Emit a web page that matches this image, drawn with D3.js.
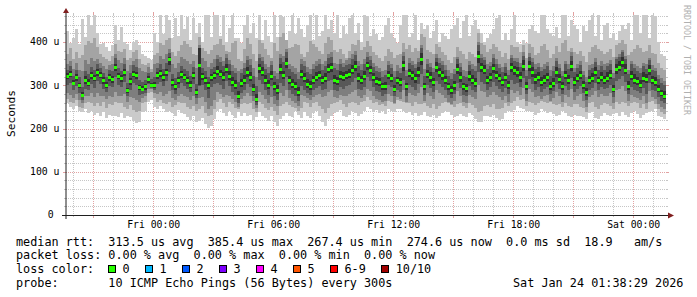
<!DOCTYPE html>
<html>
<head>
<meta charset="utf-8">
<script src="https://d3js.org/d3.v7.min.js"></script>
<style>
  body { margin: 0; background: #fff; }
  svg text { font-family: "DejaVu Sans Mono", monospace; white-space: pre; }
</style>
</head>
<body>
<div class="chart"></div>
<script>
// time window of the graph (30 hours, one sample every 9 minutes)
var startTime = "2026-01-22T19:38:29";
var endTime = "2026-01-24T01:38:29";
var stepMinutes = 9;

// median rtt per sample (us)
var median = [
  320,326,305,318,300,277,312,305,322,316, 330,322,310,300,318,314,341,320,315,330,
  287,308,326,322,294,291,296,314,300,300, 322,328,318,330,359,306,296,312,325,318,
  312,300,322,284,345,320,312,300,318,322, 332,325,318,337,320,306,300,275,303,312,
  330,318,291,268,338,330,312,300,320,296, 287,336,322,350,310,302,296,283,325,316,
  302,298,310,318,322,310,316,337,340,312, 308,320,318,322,325,334,343,316,310,320,
  345,335,318,308,306,296,298,322,316,291, 310,306,345,296,328,322,316,330,360,296,
  326,318,306,341,330,322,312,296,288,299, 337,318,296,292,320,312,305,367,340,335,
  312,318,338,322,316,306,318,300,340,333, 330,318,344,296,344,330,314,318,306,312,
  318,298,304,330,314,298,322,312,344,306, 316,322,300,283,312,316,330,310,318,312,
  316,322,290,336,341,352,335,298,320,312, 308,300,316,314,333,310,306,290,280,275
];

// the 10 pings of each sample, sorted (ping1 = fastest, ping10 = slowest)
var ping1 = [
  258,250,246,252,240,238,244,235,240,232, 236,228,238,225,232,230,228,226,235,224,
  230,226,218,213,216,238,240,262,265,250, 246,252,244,238,240,236,230,242,236,234,
  226,220,228,214,218,224,210,201,206,222, 240,246,235,228,240,232,225,238,230,236,
  228,232,220,226,238,230,224,218,228,214, 205,222,230,236,228,226,240,232,225,238,
  230,224,236,240,228,215,205,222,230,235, 238,242,230,226,232,240,236,228,234,240,
  250,246,238,242,236,240,234,244,240,238, 244,246,240,236,238,232,236,228,232,238,
  230,226,232,224,228,236,240,238,232,226, 230,234,228,226,236,232,222,214,216,228,
  230,226,232,224,220,222,236,240,238,242, 252,248,244,240,240,238,232,236,244,240,
  236,238,234,230,232,240,236,228,226,232, 230,228,226,222,236,238,225,222,230,236,
  232,228,234,236,230,238,232,226,236,240, 234,224,232,236,238,240,244,230,226,222
];
var ping2 = [
  268,262,258,266,250,248,258,262,260,252, 258,252,262,248,256,254,262,258,260,250,
  246,254,242,238,240,258,262,282,285,270, 262,266,258,256,262,250,254,262,260,258,
  250,244,252,240,246,252,236,228,232,246, 262,268,258,250,262,256,248,244,256,260,
  256,258,246,238,262,256,248,242,250,240, 232,252,256,262,254,250,248,240,248,262,
  258,250,258,262,252,244,236,248,256,258, 262,266,256,250,258,262,260,254,262,264,
  272,266,258,262,254,256,252,264,262,256, 266,264,262,258,260,252,262,256,256,260,
  252,248,256,246,252,258,262,258,254,250, 256,260,252,248,258,254,248,238,240,252,
  254,250,256,246,244,248,258,252,260,264, 272,266,268,252,262,258,254,258,264,262,
  260,262,256,254,256,250,258,252,250,256, 256,250,248,238,260,262,250,246,254,260,
  256,252,244,262,256,262,258,252,260,262, 258,248,256,246,262,264,256,244,238,234
];
var ping3 = [
  282,278,270,280,266,258,276,274,282,272, 282,276,276,268,274,272,284,276,274,280,
  262,272,270,266,262,270,274,292,292,282, 280,284,276,280,286,270,266,276,280,276,
  272,266,276,256,270,272,262,246,252,266, 284,280,272,278,274,268,262,250,268,274,
  282,276,264,248,284,278,268,258,272,256, 252,282,276,290,270,264,260,252,278,274,
  270,266,272,278,280,272,276,284,288,272, 270,278,274,276,280,284,290,274,270,278,
  292,286,274,268,266,262,264,280,276,260, 272,268,290,262,282,278,274,282,296,264,
  282,276,268,290,282,278,270,262,256,264, 286,276,262,258,278,272,268,300,286,284,
  272,278,284,278,272,266,276,262,288,282, 286,278,294,264,292,284,272,276,268,274,
  278,264,270,284,274,262,278,272,292,266, 276,280,264,250,272,278,286,272,280,276,
  276,282,258,290,292,298,286,264,278,272, 270,266,276,258,286,272,268,256,250,246
];
var ping4 = [
  300,306,288,298,282,266,292,288,304,294, 310,302,292,284,298,296,318,300,296,308,
  274,290,306,300,278,280,282,302,294,290, 302,308,298,310,330,288,280,294,306,298,
  292,284,302,270,298,300,290,270,296,302, 306,300,292,310,298,284,278,258,282,290,
  304,296,274,254,312,304,290,278,298,274, 266,306,298,318,288,280,274,264,298,290,
  282,278,288,294,298,288,292,310,312,290, 286,296,292,298,300,308,316,292,288,296,
  318,310,296,286,284,276,280,300,296,274, 288,284,312,276,300,296,290,304,326,278,
  300,294,284,310,302,296,288,278,270,280, 306,294,278,274,298,290,284,330,308,304,
  290,296,308,298,292,284,294,280,312,304, 306,296,316,280,314,304,290,296,284,292,
  296,280,286,304,292,280,298,290,316,284, 292,298,282,266,290,294,306,288,296,292,
  294,300,272,310,314,322,308,280,296,290, 286,282,294,280,306,290,286,272,264,260
];
var ping5 = [
  314,318,300,309,294,272,302,298,314,310, 322,316,302,294,310,306,332,314,308,322,
  281,300,318,314,288,286,290,306,296,294, 314,320,310,322,346,298,290,304,316,312,
  304,294,314,278,300,312,304,292,310,314, 324,318,310,328,312,298,292,268,296,304,
  320,310,284,262,328,322,304,292,312,288, 280,326,314,340,302,294,288,276,316,308,
  294,290,302,310,314,302,308,328,330,304, 300,312,310,314,316,326,334,308,302,312,
  336,326,310,300,298,288,290,314,308,284, 302,298,334,288,318,312,306,320,346,288,
  316,308,298,330,320,312,304,288,280,290, 326,308,288,284,310,302,296,352,330,326,
  304,310,328,314,308,298,310,292,330,324, 320,308,334,288,334,320,304,310,298,304,
  310,290,296,320,306,290,314,304,334,298, 308,314,292,276,304,308,322,302,310,304,
  308,314,284,326,332,342,326,290,312,304, 300,294,308,306,324,302,298,284,274,268
];
var ping6 = [
  328,334,312,326,306,284,322,314,330,324, 338,330,318,308,326,322,350,328,324,338,
  294,316,334,330,300,298,302,322,306,308, 330,336,326,338,366,314,304,320,334,326,
  320,310,330,292,385,328,320,308,326,330, 344,336,330,348,332,318,312,286,314,324,
  342,330,302,280,350,342,324,312,332,308, 300,348,334,364,322,314,308,296,336,328,
  314,310,322,330,334,322,328,350,352,324, 320,332,330,334,338,346,356,328,322,332,
  354,344,328,318,316,306,308,332,326,300, 320,316,356,306,338,332,326,342,374,306,
  336,330,316,354,340,334,322,306,298,310, 348,330,306,302,332,324,316,380,352,346,
  322,328,350,332,326,314,328,310,352,344, 342,330,358,308,356,342,326,330,318,324,
  328,308,316,342,326,308,334,324,356,318, 326,334,310,294,322,328,342,320,330,322,
  330,336,300,350,356,366,348,310,334,326, 320,312,330,326,346,322,318,300,290,286
];
var ping7 = [
  336,344,322,336,318,296,334,326,342,336, 348,340,328,320,336,334,362,340,334,350,
  306,328,346,342,312,308,312,328,314,320, 340,350,338,352,374,326,316,330,344,338,
  334,322,342,304,386,340,334,318,338,342, 360,354,344,362,348,334,328,308,328,340,
  358,346,322,298,362,356,338,328,346,322, 314,362,354,376,338,330,326,314,350,344,
  330,326,338,344,348,336,344,362,366,340, 336,348,342,346,350,360,370,344,336,348,
  366,358,342,332,330,320,324,346,340,318, 334,328,368,322,352,346,340,354,386,322,
  350,342,330,364,352,346,336,322,314,326, 360,342,322,318,346,338,332,392,364,358,
  338,344,364,348,340,330,342,324,364,356, 354,342,368,322,366,354,338,342,332,338,
  344,322,332,356,340,322,348,338,368,330, 340,346,324,308,336,340,354,336,344,336,
  344,350,316,360,366,376,360,326,348,340, 334,328,344,338,358,336,332,314,306,300
];
var ping8 = [
  350,356,338,352,336,332,358,350,362,356, 360,352,344,338,346,350,372,358,352,362,
  334,346,356,360,340,332,330,342,330,348, 352,368,360,372,384,350,340,352,366,360,
  356,348,356,340,392,362,356,342,352,360, 370,366,356,372,358,346,340,332,338,352,
  368,360,340,320,372,366,350,342,356,334, 328,372,368,384,350,344,340,330,360,356,
  342,338,350,356,360,348,356,372,376,352, 348,360,352,358,362,372,380,356,348,360,
  376,368,352,344,340,332,336,356,350,332, 346,340,376,336,362,356,350,362,392,338,
  360,352,340,372,362,356,346,336,328,338, 366,352,336,332,356,350,344,400,372,366,
  348,354,372,360,350,342,352,336,370,362, 362,352,376,336,374,362,348,352,342,348,
  354,336,344,364,350,334,356,348,376,340, 350,356,334,318,346,350,362,346,356,348,
  352,358,328,366,372,382,368,336,356,348, 344,340,352,348,364,346,340,324,316,310
];
var ping9 = [
  372,385,360,378,362,370,392,402,398,410, 388,372,366,360,356,368,395,380,376,384,
  358,362,378,382,360,350,346,352,338,370, 375,398,392,404,410,376,368,380,392,402,
  396,388,372,370,412,385,380,372,382,392, 396,408,392,380,376,398,402,360,356,384,
  410,396,372,356,404,398,384,370,362,398, 380,412,420,404,386,388,396,392,372,366,
  378,402,396,388,380,372,398,412,404,382, 376,384,372,364,380,396,392,404,382,388,
  402,390,376,370,364,356,368,384,376,362, 370,372,398,384,392,378,386,380,418,412,
  382,376,372,396,388,378,370,358,352,366, 388,380,372,360,378,372,365,420,398,392,
  378,384,396,388,380,366,374,360,392,388, 388,378,392,362,396,388,370,374,390,396,
  382,364,372,390,376,398,404,380,386,378, 372,380,368,354,376,388,392,384,380,372,
  378,384,366,394,398,404,396,370,376,384, 392,386,378,380,392,374,372,352,340,336
];
var ping10 = [
  425,398,410,430,395,453,412,468,440,470, 420,395,398,388,380,392,440,405,435,400,
  395,382,400,405,392,372,368,362,358,420, 400,470,418,468,452,410,455,415,470,430,
  458,405,455,420,445,400,465,470,412,468, 470,415,468,400,432,470,410,410,398,440,
  470,420,445,410,470,405,452,415,400,470, 412,470,458,405,425,470,418,455,430,412,
  440,468,405,462,415,425,470,430,452,420, 470,410,438,418,455,470,420,445,400,468,
  461,415,430,418,405,412,440,455,420,410, 398,440,465,470,412,420,468,405,445,430,
  440,410,425,452,400,420,415,408,430,440, 455,410,448,470,415,440,450,430,420,400,
  410,418,430,455,465,405,420,405,430,462, 400,395,405,398,430,440,425,420,462,470,
  430,420,415,435,410,468,470,415,452,440, 430,400,438,425,450,470,415,465,405,440,
  445,410,420,405,425,440,430,445,405,470, 472,420,462,470,410,465,460,400,372,368
];

// axes
var yTicks = [0, 100, 200, 300, 400];
var yTickLabels = ["0\u00a0", "100 u", "200 u", "300 u", "400 u"];
var xTicks = ["2026-01-23T00:00:00", "2026-01-23T06:00:00", "2026-01-23T12:00:00",
              "2026-01-23T18:00:00", "2026-01-24T00:00:00"];
var xTickLabels = ["Fri 00:00", "Fri 06:00", "Fri 12:00", "Fri 18:00", "Sat 00:00"];

// legend
var smokeColors = ["#cacaca", "#a4a4a4", "#7e7e7e", "#585858", "#323232"];
var lossLabels = ["0", "1", "2", "3", "4", "5", "6-9", "10/10"];
var lossColors = ["#26ff00", "#00b8ff", "#0059ff", "#7e00ff", "#ff00ff", "#ff5500", "#ff0000", "#a10000"];
var legendRtt = "median rtt:  313.5 us avg  385.4 us max  267.4 us min  274.6 us now  0.0 ms sd  18.9   am/s";
var legendLoss = "packet loss: 0.00 % avg  0.00 % max  0.00 % min  0.00 % now";
var legendProbe = "probe:       10 ICMP Echo Pings (56 Bytes) every 300s";
var stamp = "Sat Jan 24 01:38:29 2026";

// SVG size and plot box
var svgWidth = 697;
var svgHeight = 297;
var plot = {left: 66, right: 666, top: 15, bottom: 215};
var charW = 7.105;

var svg = d3.select(".chart")
  .append("svg")
  .attr("width", svgWidth)
  .attr("height", svgHeight);

svg.append("rect").attr("width", svgWidth).attr("height", svgHeight).attr("fill", "#fff");

var parseTime = d3.utcParse("%Y-%m-%dT%H:%M:%S");
var t0 = parseTime(startTime);
var t1 = parseTime(endTime);

var x = d3.scaleUtc().domain([t0, t1]).range([plot.left, plot.right]);
var y = d3.scaleLinear().domain([0, 200 / 0.4325]).range([plot.bottom, plot.top]);

// rows for the step areas
var pings = [ping1, ping2, ping3, ping4, ping5, ping6, ping7, ping8, ping9, ping10];
var rows = median.map(function(m, i) {
  return {t: d3.utcMinute.offset(t0, i * stepMinutes), med: m, p: pings.map(function(a) { return a[i]; })};
});
rows.push(Object.assign({}, rows[rows.length - 1], {t: t1}));

// grid (under the smoke)
var gridG = svg.append("g").attr("shape-rendering", "crispEdges");
var minorCol = "#c6c6c6";
var majorCol = "#e2a2a2";

var hours = d3.utcHour.range(d3.utcHour.ceil(t0), t1);
hours.forEach(function(h) {
  var major = h.getUTCHours() % 3 === 0;
  var px = Math.round(x(h)) + 0.5;
  var col = major ? majorCol : minorCol;
  gridG.append("line")
    .attr("x1", px).attr("x2", px)
    .attr("y1", plot.top).attr("y2", plot.bottom)
    .attr("stroke", col).attr("stroke-dasharray", "1,1");
  gridG.append("line")
    .attr("x1", px).attr("x2", px)
    .attr("y1", plot.bottom).attr("y2", plot.bottom + (major ? 3 : 2))
    .attr("stroke", col);
  gridG.append("line")
    .attr("x1", px).attr("x2", px)
    .attr("y1", plot.top - (major ? 3 : 2)).attr("y2", plot.top)
    .attr("stroke", col);
});

d3.range(20, y.domain()[1], 20).forEach(function(v) {
  var major = v % 100 === 0;
  var py = Math.round(y(v)) + 0.5;
  var col = major ? majorCol : minorCol;
  gridG.append("line")
    .attr("x1", plot.left).attr("x2", plot.right)
    .attr("y1", py).attr("y2", py)
    .attr("stroke", col).attr("stroke-dasharray", "1,1");
  gridG.append("line")
    .attr("x1", plot.left - (major ? 3 : 2)).attr("x2", plot.left)
    .attr("y1", py).attr("y2", py)
    .attr("stroke", col);
  gridG.append("line")
    .attr("x1", plot.right).attr("x2", plot.right + (major ? 3 : 2))
    .attr("y1", py).attr("y2", py)
    .attr("stroke", col);
});

svg.append("clipPath").attr("id", "clip")
  .append("rect")
  .attr("x", plot.left).attr("y", plot.top)
  .attr("width", plot.right - plot.left).attr("height", plot.bottom - plot.top);

var dataG = svg.append("g").attr("clip-path", "url(#clip)");

// smoke: outer pair of pings lightest, inner pair darkest
smokeColors.forEach(function(c, k) {
  var area = d3.area()
    .curve(d3.curveStepAfter)
    .x(function(d) { return x(d.t); })
    .y0(function(d) { return y(d.p[k]); })
    .y1(function(d) { return y(d.p[9 - k]); });
  dataG.append("path")
    .datum(rows)
    .attr("fill", c)
    .attr("shape-rendering", "crispEdges")
    .attr("d", area);
});

// median, drawn as a 3px band in the loss colour
var medArea = d3.area()
  .curve(d3.curveStepAfter)
  .x(function(d) { return x(d.t); })
  .y0(function(d) { return y(d.med) + 1.5; })
  .y1(function(d) { return y(d.med) - 1.5; });
dataG.append("path")
  .datum(rows)
  .attr("fill", lossColors[0])
  .attr("shape-rendering", "crispEdges")
  .attr("d", medArea);

// axes lines and arrows
svg.append("line")
  .attr("x1", plot.left - 4).attr("x2", plot.right + 3)
  .attr("y1", plot.bottom + 0.5).attr("y2", plot.bottom + 0.5)
  .attr("stroke", "#1f1f1f").attr("shape-rendering", "crispEdges");
svg.append("line")
  .attr("x1", plot.left).attr("x2", plot.left)
  .attr("y1", plot.bottom + 4).attr("y2", plot.top - 3)
  .attr("stroke", "#1f1f1f");
svg.append("path")
  .attr("d", "M" + (plot.right + 2) + "," + (plot.bottom - 2.5) + "L" + (plot.right + 8) + "," + (plot.bottom + 0.5) +
             "L" + (plot.right + 2) + "," + (plot.bottom + 3.5) + "Z")
  .attr("fill", "#801f1f");
svg.append("path")
  .attr("d", "M" + (plot.left - 3) + "," + (plot.top - 2) + "L" + plot.left + "," + (plot.top - 7) +
             "L" + (plot.left + 3) + "," + (plot.top - 2) + "Z")
  .attr("fill", "#801f1f");

// tick labels through d3 axes
var xAxis = d3.axisBottom(x)
  .tickValues(xTicks.map(parseTime))
  .tickFormat(function(d, i) { return xTickLabels[i]; })
  .tickSize(0);
var xg = svg.append("g").attr("transform", "translate(0," + plot.bottom + ")").call(xAxis);
xg.select(".domain").remove();
xg.selectAll("text")
  .attr("y", 13).attr("dy", 0)
  .attr("fill", "#000")
  .style("font-family", "'DejaVu Sans Mono', monospace")
  .style("font-size", "9.8px");

var yAxis = d3.axisLeft(y)
  .tickValues(yTicks)
  .tickFormat(function(d, i) { return yTickLabels[i]; })
  .tickSize(0);
var yg = svg.append("g").call(yAxis);
yg.select(".domain").remove();
yg.selectAll("text")
  .attr("x", 59.5).attr("dy", "0.3em")
  .attr("fill", "#000")
  .style("font-family", "'DejaVu Sans Mono', monospace")
  .style("font-size", "9.8px");

// axis title
svg.append("text")
  .attr("transform", "translate(15,113.5) rotate(-90)")
  .attr("text-anchor", "middle")
  .style("font-size", "11.2px")
  .text("Seconds");

// watermark
svg.append("text")
  .attr("transform", "translate(683.5,5) rotate(90)")
  .attr("fill", "#b0b0b0")
  .style("font-size", "8.3px")
  .text("RRDTOOL / TOBI OETIKER");

// legend
var legendG = svg.append("g").style("font-size", "11.8px").attr("fill", "#000");
function legendLine(txt, xPos, yPos) {
  return legendG.append("text")
    .attr("xml:space", "preserve")
    .attr("x", xPos).attr("y", yPos)
    .text(txt);
}
legendLine(legendRtt, 16, 245.5);
legendLine(legendLoss, 16, 259);
legendLine("loss color:", 16, 273);
legendLine(legendProbe, 16, 286.5);
legendLine(stamp, 513, 286.5);

var sqX = 16 + 13 * charW - 0.4;
lossLabels.forEach(function(lbl, i) {
  legendG.append("rect")
    .attr("x", Math.round(sqX) + 0.5).attr("y", 265.5)
    .attr("width", 7).attr("height", 7)
    .attr("fill", lossColors[i])
    .attr("stroke", "#000").attr("stroke-width", 1);
  legendLine(lbl, sqX + 14.5, 273);
  sqX = sqX + 14.5 + lbl.length * charW + 15.4;
});
</script>
</body>
</html>
